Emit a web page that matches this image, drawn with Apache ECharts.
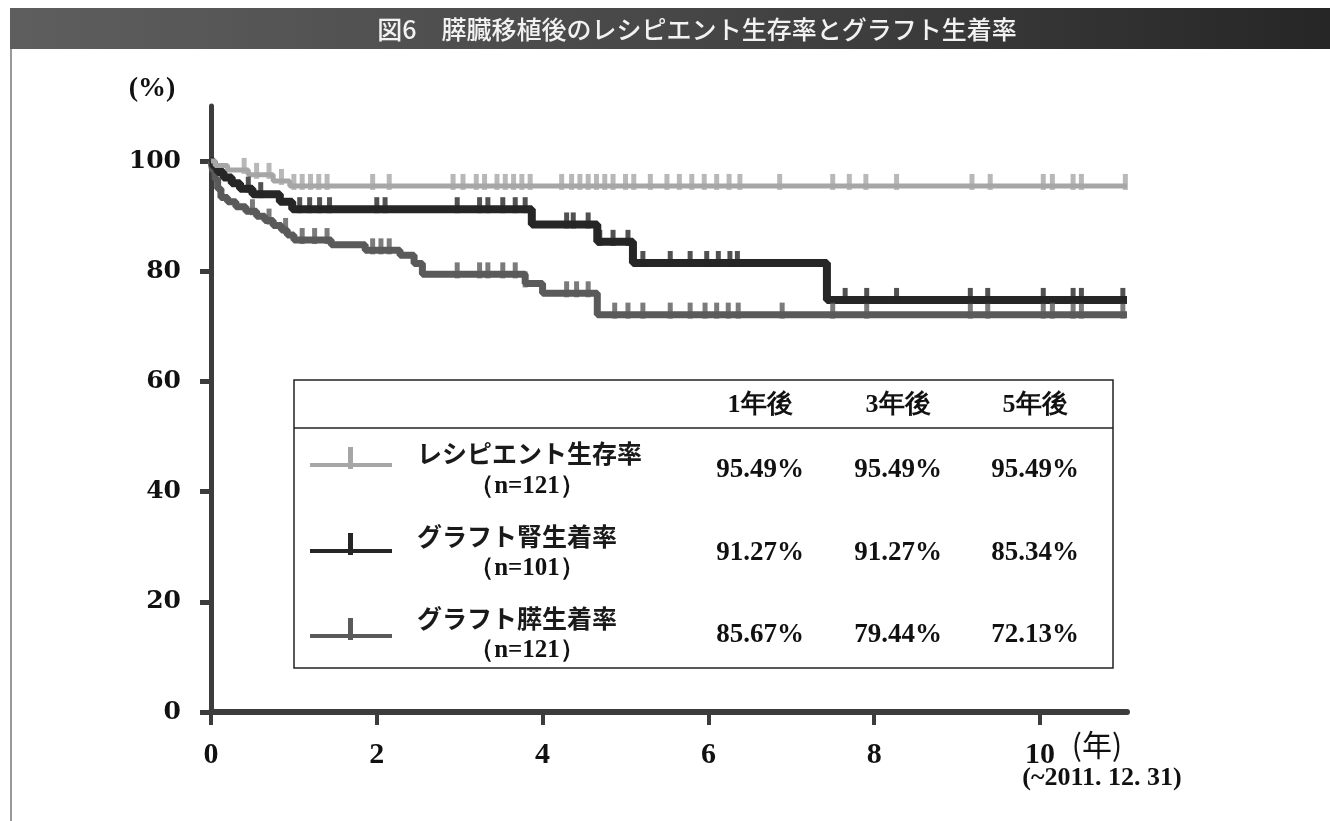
<!DOCTYPE html>
<html>
<head>
<meta charset="utf-8">
<script src="https://cdn.jsdelivr.net/npm/echarts@6/dist/echarts.min.js"></script>
<style>
html, body { margin: 0; padding: 0; background: #fff; }
#chart { width: 1330px; height: 821px; }
</style>
</head>
<body>
<div id="chart"></div>
<script>
// Kaplan-Meier step curves: event time (years) and survival after the event (%)
const recipientT = [0, 0.05, 0.2, 0.45, 0.75, 0.95, 11.05];
const recipientV = [100, 99.2, 98.4, 97.5, 96.4, 95.49, 95.49];

const kidneyT = [0, 0.03, 0.08, 0.15, 0.25, 0.35, 0.5, 0.83, 0.98, 3.87, 4.66, 5.09, 7.43, 11.05];
const kidneyV = [100, 99.0, 98.0, 97.0, 96.0, 95.0, 94.0, 92.6, 91.27, 88.5, 85.34, 81.5, 74.8, 74.8];

const pancreasT = [0, 0.02, 0.05, 0.08, 0.12, 0.2, 0.3, 0.42, 0.55, 0.65, 0.75, 0.85, 0.92, 1.0, 1.45, 1.86, 2.28, 2.45, 2.55, 3.79, 4.0, 4.66, 11.05];
const pancreasV = [100, 98.3, 96.7, 95.0, 93.4, 92.6, 91.7, 90.9, 90.0, 89.2, 88.3, 87.5, 86.6, 85.67, 84.8, 83.8, 82.9, 81.4, 79.44, 77.8, 76.0, 72.13, 72.13];

// censored observations (years)
const recipientCensor = [0.4, 0.55, 0.7, 0.85, 1.0, 1.1, 1.2, 1.3, 1.4, 1.95, 2.15, 2.92, 3.04, 3.2, 3.3, 3.45, 3.55, 3.65, 3.75, 3.85,
  4.23, 4.35, 4.45, 4.55, 4.65, 4.75, 4.85, 5.0, 5.1, 5.3, 5.5, 5.65, 5.8, 5.95, 6.1, 6.25, 6.38, 6.86, 7.5, 7.7, 7.9, 8.27,
  9.18, 9.4, 10.04, 10.15, 10.4, 10.5, 11.03];
const kidneyCensor = [0.45, 0.6, 1.07, 1.19, 1.31, 1.43, 2.0, 2.1, 2.97, 3.24, 3.34, 3.52, 3.67, 3.79, 4.29, 4.37, 4.55,
  4.69, 4.85, 5.03, 5.21, 5.54, 5.78, 5.98, 6.12, 6.26, 6.35, 7.65, 7.91, 8.27, 9.16, 9.37, 10.04, 10.4, 10.5, 11.0];
const pancreasCensor = [0.5, 0.7, 0.9, 1.1, 1.25, 1.4, 1.95, 2.05, 2.15, 2.97, 3.24, 3.34, 3.52, 3.67, 3.79, 4.29, 4.41, 4.55,
  4.87, 5.03, 5.21, 5.54, 5.78, 5.96, 6.1, 6.24, 6.36, 6.89, 7.5, 7.91, 9.16, 9.37, 10.04, 10.15, 10.4, 10.5, 11.0];

// table of rates
const seriesNames = ['レシピエント生存率', 'グラフト腎生着率', 'グラフト膵生着率'];
const seriesN = ['（n=121）', '（n=101）', '（n=121）'];
const tableCols = ['1年後', '3年後', '5年後'];
const rates1y = [95.49, 91.27, 85.67];
const rates3y = [95.49, 91.27, 79.44];
const rates5y = [95.49, 85.34, 72.13];

const xTicks = [0, 2, 4, 6, 8, 10];
const yTicks = [0, 20, 40, 60, 80, 100];

const colRecipient = '#a6a6a6';
const colKidney = '#262626';
const colPancreas = '#5a5a5a';

function pairs(ts, vs) { return ts.map((t, i) => [t, vs[i]]); }
function valueAt(ts, vs, t) {
  let v = vs[0];
  for (let i = 0; i < ts.length; i++) { if (ts[i] <= t) v = vs[i]; }
  return v;
}
function censorPts(cs, ts, vs) { return cs.map(t => [t, valueAt(ts, vs, t)]); }

const chart = echarts.init(document.getElementById('chart'));

const serifNum = '"Liberation Serif", "Times New Roman", serif';
const jpSans = '"Noto Sans CJK JP", sans-serif';

// table layout
const tbl = { left: 294, right: 1113, top: 380, bottom: 668, headLine: 428 };
const colX = [760, 898, 1035];
const rowValY = [470, 553, 635];
const rowNameY = [453, 536, 618];
const rowNY = [487, 569, 651];
const rowLineY = [465, 551, 636];
const rowColors = [colRecipient, colKidney, colPancreas];
const rowRates = [0, 1, 2].map(i => [rates1y[i], rates3y[i], rates5y[i]]);

const graphics = [
  { type: 'rect', shape: { x: 10, y: 8, width: 1320, height: 41 },
    style: { fill: new echarts.graphic.LinearGradient(0, 0, 1, 0, [
      { offset: 0, color: '#5e5e5e' }, { offset: 0.5, color: '#474747' }, { offset: 1, color: '#262626' }]) } },
  { type: 'text', x: 697, y: 29, style: { text: '図6　膵臓移植後のレシピエント生存率とグラフト生着率',
      font: '500 25px ' + jpSans, fill: '#f2f2f2', align: 'center', verticalAlign: 'middle' } },
  { type: 'line', shape: { x1: 11, y1: 49, x2: 11, y2: 821 }, style: { stroke: '#777', lineWidth: 1.5 } },
  { type: 'text', x: 152, y: 89, style: { text: '(%)', font: 'bold 28px ' + serifNum, fill: '#111',
      align: 'center', verticalAlign: 'middle' } },
  { type: 'text', x: 1097, y: 745, style: { text: '(年)', font: '30px ' + jpSans, fill: '#111',
      align: 'center', verticalAlign: 'middle' } },
  { type: 'text', x: 1102, y: 778, style: { text: '(~2011. 12. 31)', font: 'bold 26px ' + serifNum, fill: '#111',
      align: 'center', verticalAlign: 'middle' } },
  // table frame
  { type: 'rect', shape: { x: tbl.left, y: tbl.top, width: tbl.right - tbl.left, height: tbl.bottom - tbl.top },
    style: { fill: '#fff', stroke: '#222', lineWidth: 1.5 }, z: 10 },
  { type: 'line', shape: { x1: tbl.left, y1: tbl.headLine, x2: tbl.right, y2: tbl.headLine },
    style: { stroke: '#222', lineWidth: 1.5 }, z: 11 }
];
tableCols.forEach((c, j) => {
  graphics.push({ type: 'text', x: colX[j], y: 405, z: 11,
    style: { text: c, font: 'bold 26px ' + serifNum, fill: '#111', align: 'center', verticalAlign: 'middle' } });
});
seriesNames.forEach((name, i) => {
  graphics.push({ type: 'text', x: 417, y: rowNameY[i], z: 11,
    style: { text: name, font: 'bold 25px ' + jpSans, fill: '#1a1a1a', align: 'left', verticalAlign: 'middle' } });
  graphics.push({ type: 'text', x: 527, y: rowNY[i], z: 11,
    style: { text: seriesN[i], font: 'bold 25px ' + serifNum, fill: '#111', align: 'center', verticalAlign: 'middle' } });
  rowRates[i].forEach((r, j) => {
    graphics.push({ type: 'text', x: colX[j], y: rowValY[i], z: 11,
      style: { text: r.toFixed(2) + '%', font: 'bold 27px ' + serifNum, fill: '#111', align: 'center', verticalAlign: 'middle' } });
  });
  graphics.push({ type: 'line', z: 11, shape: { x1: 310, y1: rowLineY[i], x2: 392, y2: rowLineY[i] },
    style: { stroke: rowColors[i], lineWidth: 4 } });
  graphics.push({ type: 'rect', z: 11, shape: { x: 348, y: rowLineY[i] - 18, width: 5, height: 22 },
    style: { fill: rowColors[i] } });
});

const censorStyle = (color) => ({
  type: 'scatter', symbol: 'rect', symbolSize: [5, 16], symbolOffset: [0, -4],
  itemStyle: { color: color }, silent: true, z: 3
});

chart.setOption({
  animation: false,
  backgroundColor: '#fff',
  grid: { left: 211, right: 203, top: 106, bottom: 109, containLabel: false },
  xAxis: {
    type: 'value', min: 0, max: 11.05, interval: 2,
    axisLine: { show: true, onZero: false, lineStyle: { color: '#3c3c3c', width: 6 } },
    axisTick: { show: true, customValues: xTicks, length: 13, inside: false, lineStyle: { color: '#3c3c3c', width: 4 } },
    axisLabel: { customValues: xTicks, margin: 28, color: '#111', fontFamily: serifNum, fontWeight: 'bold', fontSize: 30 },
    splitLine: { show: false }
  },
  yAxis: {
    type: 'value', min: 0, max: 110, interval: 20,
    axisLine: { show: true, onZero: false, lineStyle: { color: '#3c3c3c', width: 5 } },
    axisTick: { show: true, customValues: yTicks, length: 11, lineStyle: { color: '#3c3c3c', width: 5 } },
    axisLabel: { customValues: yTicks, margin: 30, color: '#111', fontFamily: '"DejaVu Serif", serif', fontWeight: 'bold', fontSize: 25 },
    splitLine: { show: false }
  },
  series: [
    { name: 'グラフト膵生着率', type: 'line', step: 'end', data: pairs(pancreasT, pancreasV), showSymbol: false,
      lineStyle: { color: colPancreas, width: 7 }, z: 2 },
    { name: 'グラフト腎生着率', type: 'line', step: 'end', data: pairs(kidneyT, kidneyV), showSymbol: false,
      lineStyle: { color: colKidney, width: 8 }, z: 2 },
    { name: 'レシピエント生存率', type: 'line', step: 'end', data: pairs(recipientT, recipientV), showSymbol: false,
      lineStyle: { color: colRecipient, width: 5 }, z: 2 },
    Object.assign(censorStyle(colPancreas), { data: censorPts(pancreasCensor, pancreasT, pancreasV) }),
    Object.assign(censorStyle(colKidney), { data: censorPts(kidneyCensor, kidneyT, kidneyV) }),
    Object.assign(censorStyle(colRecipient), { data: censorPts(recipientCensor, recipientT, recipientV) })
  ],
  graphic: graphics
});
</script>
</body>
</html>
